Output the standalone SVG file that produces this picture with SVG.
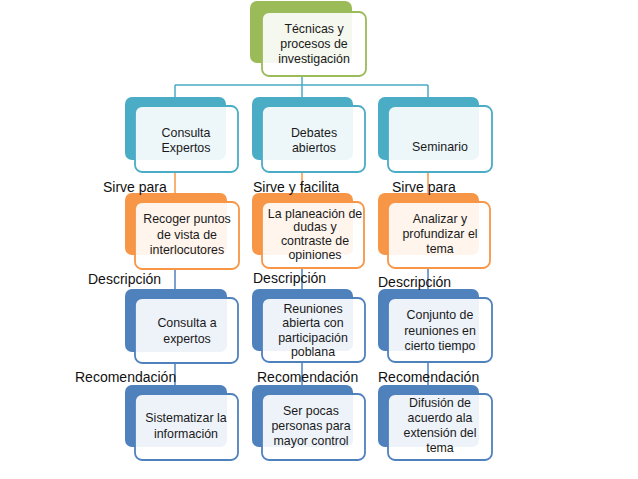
<svg xmlns="http://www.w3.org/2000/svg" width="638" height="479" viewBox="0 0 638 479">
<style>
.bg{fill:#fff}
.bk{stroke:none}
.fr{fill:#fff;fill-opacity:0.9;stroke-width:1.8}
.g .bk{fill:#9BBB59}.g .fr{stroke:#9BBB59}
.a .bk{fill:#4BACC6}.a .fr{stroke:#4BACC6}
.o .bk{fill:#F79646}.o .fr{stroke:#F79646}
.b .bk{fill:#4F81BD}.b .fr{stroke:#4F81BD}
.t{font-family:"Liberation Sans",Arial,sans-serif;font-size:12.4px;fill:#1a1a1a;text-anchor:middle}
.l{font-family:"Liberation Sans",Arial,sans-serif;font-size:14px;fill:#111}
.ca{stroke:#4BACC6;stroke-width:1.5;fill:none}
.co{stroke:#F79646;stroke-width:1.5;fill:none}
.cb{stroke:#4F81BD;stroke-width:1.5;fill:none}
</style>
<rect class="bg" x="0" y="0" width="638" height="479"/>
<g id="connectors">
<path class="ca" d="M302 76V85M175 85H428M175 85V97M302 85V97M428 85V97"/>
<path class="co" d="M175 172V193M302 172V193M428 172V193"/>
<path class="cb" d="M175 269V289M302 269V289M428 269V289M175 363V385M302 363V385M428 363V385"/>
</g>
<g id="top" class="g">
<rect class="bk" x="250" y="1" width="102" height="62" rx="7"/>
<rect class="fr" x="262" y="12" width="104" height="64" rx="7"/>
<text class="t"><tspan x="314" y="33">Técnicas y</tspan><tspan x="314" y="48">procesos de</tspan><tspan x="314" y="63">investigación</tspan></text>
</g>
<g id="n1" class="a">
<rect class="bk" x="125" y="97" width="101" height="63" rx="7"/>
<rect class="fr" x="135" y="106" width="103" height="66" rx="7"/>
<text class="t"><tspan x="186" y="137">Consulta</tspan><tspan x="186" y="152">Expertos</tspan></text>
</g>
<g id="n2" class="a">
<rect class="bk" x="252" y="97" width="101" height="63" rx="7"/>
<rect class="fr" x="262" y="106" width="103" height="66" rx="7"/>
<text class="t"><tspan x="314" y="137">Debates</tspan><tspan x="314" y="152">abiertos</tspan></text>
</g>
<g id="n3" class="a">
<rect class="bk" x="378" y="97" width="101" height="63" rx="7"/>
<rect class="fr" x="388" y="106" width="104" height="66" rx="7"/>
<text class="t" x="440" y="151">Seminario</text>
</g>
<g id="n4" class="o">
<rect class="bk" x="125" y="193" width="102" height="62" rx="7"/>
<rect class="fr" x="135" y="202" width="104" height="67" rx="7"/>
<text class="t"><tspan x="187" y="223">Recoger puntos</tspan><tspan x="187" y="239">de vista de</tspan><tspan x="187" y="254">interlocutores</tspan></text>
</g>
<g id="n5" class="o">
<rect class="bk" x="252" y="193" width="101" height="62" rx="7"/>
<rect class="fr" x="262" y="202" width="102" height="66" rx="7"/>
<text class="t"><tspan x="315" y="218">La planeación de</tspan><tspan x="315" y="231">dudas y</tspan><tspan x="315" y="245">contraste de</tspan><tspan x="315" y="259">opiniones</tspan></text>
</g>
<g id="n6" class="o">
<rect class="bk" x="378" y="193" width="101" height="62" rx="7"/>
<rect class="fr" x="388" y="202" width="102" height="66" rx="7"/>
<text class="t"><tspan x="440" y="223">Analizar y</tspan><tspan x="440" y="238">profundizar el</tspan><tspan x="440" y="253">tema</tspan></text>
</g>
<g id="n7" class="b">
<rect class="bk" x="125" y="289" width="102" height="63" rx="7"/>
<rect class="fr" x="135" y="298" width="103" height="65" rx="7"/>
<text class="t"><tspan x="187" y="327">Consulta a</tspan><tspan x="187" y="343">expertos</tspan></text>
</g>
<g id="n8" class="b">
<rect class="bk" x="252" y="289" width="101" height="62" rx="7"/>
<rect class="fr" x="262" y="298" width="103" height="64" rx="7"/>
<text class="t"><tspan x="313" y="313">Reuniones</tspan><tspan x="313" y="327">abierta con</tspan><tspan x="313" y="342">participación</tspan><tspan x="313" y="356">poblana</tspan></text>
</g>
<g id="n9" class="b">
<rect class="bk" x="378" y="289" width="101" height="62" rx="7"/>
<rect class="fr" x="388" y="298" width="104" height="64" rx="7"/>
<text class="t"><tspan x="440" y="319">Conjunto de</tspan><tspan x="440" y="335">reuniones en</tspan><tspan x="440" y="350">cierto tiempo</tspan></text>
</g>
<g id="n10" class="b">
<rect class="bk" x="125" y="385" width="102" height="62" rx="7"/>
<rect class="fr" x="135" y="394" width="103" height="66" rx="7"/>
<text class="t"><tspan x="186" y="422">Sistematizar la</tspan><tspan x="186" y="438">información</tspan></text>
</g>
<g id="n11" class="b">
<rect class="bk" x="252" y="385" width="101" height="62" rx="7"/>
<rect class="fr" x="262" y="394" width="103" height="66" rx="7"/>
<text class="t"><tspan x="311" y="415">Ser pocas</tspan><tspan x="311" y="430">personas para</tspan><tspan x="311" y="445">mayor control</tspan></text>
</g>
<g id="n12" class="b">
<rect class="bk" x="378" y="385" width="101" height="62" rx="7"/>
<rect class="fr" x="388" y="394" width="104" height="66" rx="7"/>
<text class="t"><tspan x="440" y="407">Difusión de</tspan><tspan x="440" y="422">acuerdo ala</tspan><tspan x="440" y="437">extensión del</tspan><tspan x="440" y="452">tema</tspan></text>
</g>
<g id="labels">
<text class="l" x="103" y="192">Sirve para</text>
<text class="l" x="253" y="192">Sirve y facilita</text>
<text class="l" x="392" y="192">Sirve para</text>
<text class="l" x="88" y="284">Descripción</text>
<text class="l" x="253" y="283">Descripción</text>
<text class="l" x="378" y="287">Descripción</text>
<text class="l" x="75" y="382">Recomendación</text>
<text class="l" x="257" y="382">Recomendación</text>
<text class="l" x="378" y="382">Recomendación</text>
</g>
</svg>
